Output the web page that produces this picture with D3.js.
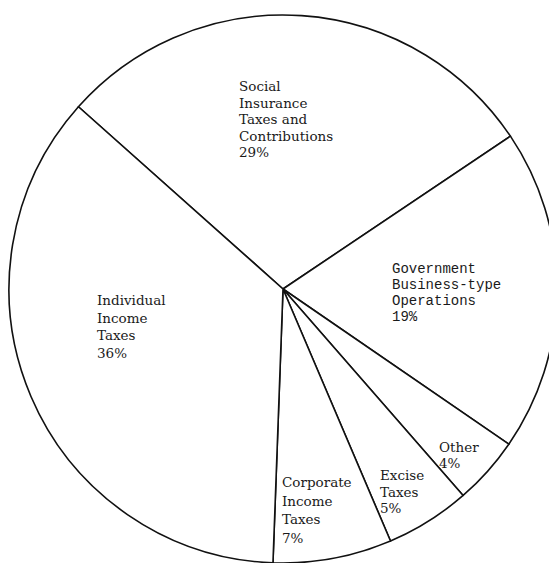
<!DOCTYPE html>
<html>
<head>
<meta charset="utf-8">
<script src="https://cdn.jsdelivr.net/npm/d3@7/dist/d3.min.js"></script>
<style>
  html, body { margin: 0; padding: 0; background: #fff; }
  svg { display: block; }
</style>
</head>
<body>
<script>
// Budget receipts by source, percent of total
const categories = [
  "Social Insurance Taxes and Contributions",
  "Government Business-type Operations",
  "Other",
  "Excise Taxes",
  "Corporate Income Taxes",
  "Individual Income Taxes"
];
const shares = [29, 19, 4, 5, 7, 36];
const labelLines = [
  ["Social", "Insurance", "Taxes and", "Contributions", "29%"],
  ["Government", "Business-type", "Operations", "19%"],
  ["Other", "4%"],
  ["Excise", "Taxes", "5%"],
  ["Corporate", "Income", "Taxes", "7%"],
  ["Individual", "Income", "Taxes", "36%"]
];

// Layout
const W = 549, H = 563;
const cx = 283, cy = 289, R = 274;
const startDeg = -48.3;
// text block anchors (left edge, first baseline) and styling per label
const labelAnchor = [
  [239, 91], [392, 273], [439, 452], [380, 480], [282, 487], [97, 305]
];
const labelFont = ["serif", "mono", "serif", "serif", "serif", "serif"];
const labelStep = [16.5, 16, 15.5, 16.5, 18.5, 17.5];

const svg = d3.select("body").append("svg")
  .attr("width", W).attr("height", H);

svg.append("rect").attr("width", W).attr("height", H).attr("fill", "#fff");

const g = svg.append("g").attr("transform", `translate(${cx},${cy})`);

const pie = d3.pie().sort(null).value(d => d)
  .startAngle(startDeg * Math.PI / 180)
  .endAngle((startDeg + 360) * Math.PI / 180);
const arc = d3.arc().innerRadius(0).outerRadius(R);

const arcs = pie(shares);

g.selectAll("path.slice")
  .data(arcs)
  .join("path")
  .attr("class", "slice")
  .attr("d", arc)
  .attr("fill", "#fff")
  .attr("stroke", "#111")
  .attr("stroke-width", 1.6)
  .attr("stroke-linejoin", "round");

const labels = svg.append("g");
labelLines.forEach((lines, i) => {
  const [x, y] = labelAnchor[i];
  const t = labels.append("text")
    .attr("x", x).attr("y", y)
    .attr("fill", "#1a1a1a")
    .attr("font-family", labelFont[i] === "mono" ? "'Liberation Mono', monospace" : "'DejaVu Serif', serif")
    .attr("font-size", labelFont[i] === "mono" ? 14 : 13.5);
  lines.forEach((s, j) => {
    t.append("tspan").attr("x", x).attr("y", y + j * labelStep[i]).text(s);
  });
});
</script>
</body>
</html>
